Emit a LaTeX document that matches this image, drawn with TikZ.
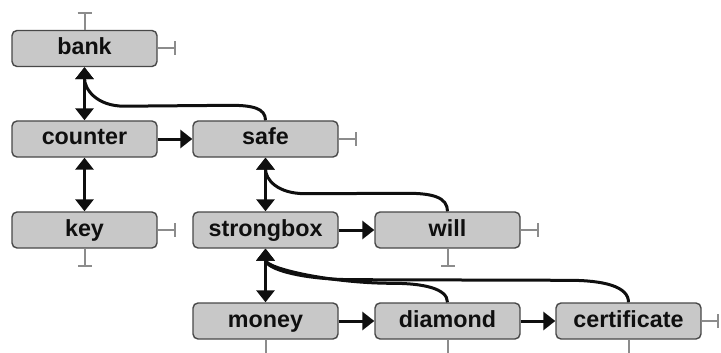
\documentclass[tikz,border=0pt]{standalone}
\usepackage{fontspec}
\setmainfont{Liberation Sans}
\usetikzlibrary{arrows.meta,calc}
\definecolor{boxfill}{RGB}{200,200,200}
\definecolor{boxedge}{RGB}{72,72,72}
\definecolor{stubgray}{RGB}{140,140,140}
\definecolor{inkblack}{RGB}{15,15,15}
\begin{document}
\begin{tikzpicture}[x=1pt,y=1pt,
  term/.style={draw=boxedge, fill=boxfill, line width=1.4pt, rounded corners=5pt,
    minimum width=145pt, minimum height=36pt, inner sep=0pt, text=inkblack,
    text height=16.5pt, text depth=4.5pt,
    font=\fontsize{23.3}{24}\selectfont\bfseries},
  tip/.tip={Triangle[length=12pt,width=18pt]},
  link/.style={draw=inkblack, line width=3pt, -tip},
  dlink/.style={draw=inkblack, line width=3pt, tip-tip},
  stub/.style={draw=stubgray, line width=2pt, -{Bar[width=14pt]}}]
\useasboundingbox (0,0) rectangle (721,-353);
\clip (0,0) rectangle (721,-353);

% terms
\node[term] (bank)        at (84.5,-48.5) {bank};
\node[term] (counter)     at (84.5,-139)  {counter};
\node[term] (key)         at (84.5,-230)  {key};
\node[term] (safe)        at (265.5,-139) {safe};
\node[term] (strongbox)   at (265.5,-230) {strongbox};
\node[term] (will)        at (447.5,-230) {will};
\node[term] (money)       at (265.5,-321) {money};
\node[term] (diamond)     at (447.5,-321) {diamond};
\node[term] (certificate) at (628.5,-321) {certificate};

% open ends
\coordinate (bankTop)   at ($(bank.north)+(0,18)$);
\coordinate (bankEnd)   at ($(bank.east)+(18,0)$);
\coordinate (keyEnd)    at ($(key.east)+(18,0)$);
\coordinate (keyBot)    at ($(key.south)+(0,-18)$);
\coordinate (safeEnd)   at ($(safe.east)+(18,0)$);
\coordinate (willEnd)   at ($(will.east)+(18,0)$);
\coordinate (willBot)   at ($(will.south)+(0,-18)$);
\coordinate (moneyBot)  at ($(money.south)+(0,-18)$);
\coordinate (diamondBot) at ($(diamond.south)+(0,-18)$);
\coordinate (certBot)   at ($(certificate.south)+(0,-18)$);
\coordinate (certEnd)   at ($(certificate.east)+(17,0)$);

\draw[stub] (bank.north) -- (bankTop);
\draw[stub] (bank.east) -- (bankEnd);
\draw[stub] (key.east) -- (keyEnd);
\draw[stub] (key.south) -- (keyBot);
\draw[stub] (safe.east) -- (safeEnd);
\draw[stub] (will.east) -- (willEnd);
\draw[stub] (will.south) -- (willBot);
\draw[stub] (money.south) -- (moneyBot);
\draw[stub] (diamond.south) -- (diamondBot);
\draw[stub] (certificate.south) -- (certBot);
\draw[stub] (certificate.east) -- (certEnd);

% straight links
\draw[dlink] (bank) -- (counter);
\draw[dlink] (counter) -- (key);
\draw[link] (counter) -- (safe);
\draw[dlink] (safe) -- (strongbox);
\draw[link] (strongbox) -- (will);
\draw[dlink] (strongbox) -- (money);
\draw[link] (money) -- (diamond);
\draw[link] (diamond) -- (certificate);

% curved links back up to an earlier term
\draw[link] (safe.north) .. controls +(0,12) and +(22,0) .. ($(safe.north)+(-35,15)$)
  -- ($(bank.south)+(40,-39)$) .. controls +(-28,0) and +(0,-22) .. (bank.south);
\draw[link] (will.north) .. controls +(0,14) and +(25,0) .. ($(will.north)+(-40,18)$)
  -- ($(safe.south)+(40,-36)$) .. controls +(-28,0) and +(0,-22) .. (safe.south);
\draw[link] (diamond.north) .. controls +(0,14) and +(30,0) .. ($(diamond.north)+(-55,19)$)
  .. controls +(-60,0) and +(0,-20) .. (strongbox.south);
\draw[link] (certificate.north) .. controls +(0,16) and +(35,0) .. ($(certificate.north)+(-60,22)$)
  -- ($(strongbox.south)+(90,-31)$) .. controls +(-55,0) and +(0,-20) .. (strongbox.south);
\end{tikzpicture}
\end{document}
